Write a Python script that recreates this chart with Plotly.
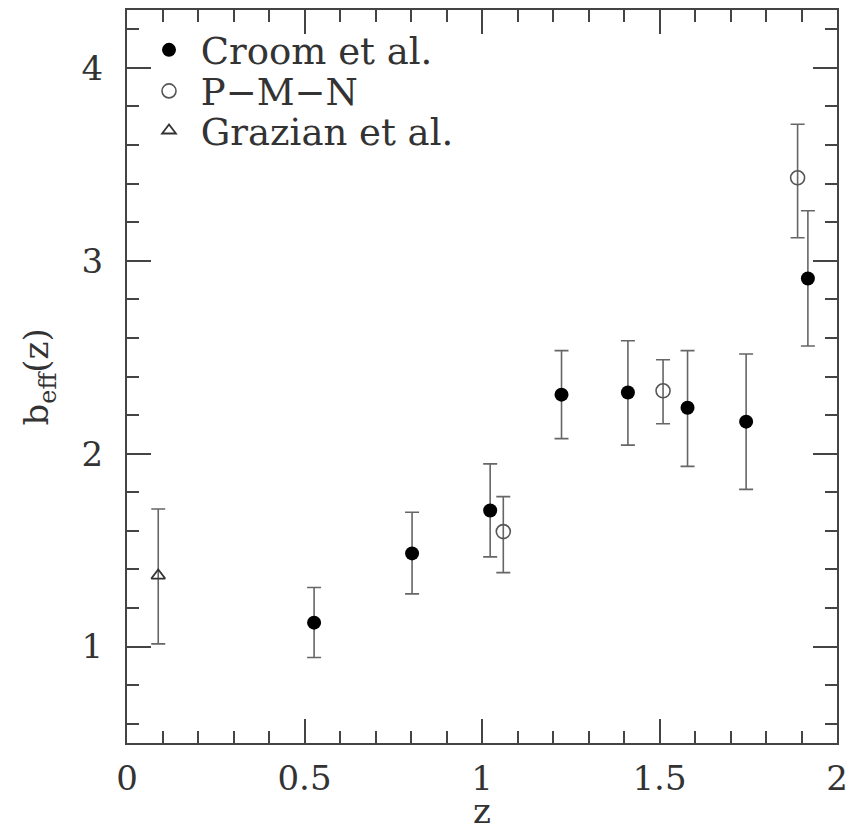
import plotly.graph_objects as go

# Croom et al.
croom_z = [0.527, 0.803, 1.023, 1.224, 1.411, 1.579, 1.744, 1.918]
croom_b = [1.124, 1.483, 1.705, 2.306, 2.317, 2.238, 2.166, 2.908]
croom_hi = [1.306, 1.696, 1.947, 2.534, 2.585, 2.534, 2.517, 3.259]
croom_lo = [0.943, 1.273, 1.465, 2.078, 2.044, 1.934, 1.815, 2.558]

# P-M-N
pmn_z = [1.060, 1.510, 1.889]
pmn_b = [1.596, 2.326, 3.430]
pmn_hi = [1.777, 2.487, 3.708]
pmn_lo = [1.383, 2.155, 3.119]

# Grazian et al.
gra_z = [0.088]
gra_b = [1.368]
gra_hi = [1.713]
gra_lo = [1.014]

ERR_COLOR = "#666666"
AX_COLOR = "#444444"
TXT_COLOR = "#333333"
FONT = "DejaVu Serif"


def err(b, hi, lo):
    return dict(type="data", symmetric=False,
                array=[h - v for h, v in zip(hi, b)],
                arrayminus=[v - l for v, l in zip(b, lo)],
                color=ERR_COLOR, thickness=1.6, width=7)


fig = go.Figure()
fig.add_trace(go.Scatter(x=croom_z, y=croom_b, mode="markers", name=" Croom et al.",
                         legend="legend",
                         marker=dict(symbol="circle", size=14, color="black"),
                         error_y=err(croom_b, croom_hi, croom_lo)))
fig.add_trace(go.Scatter(x=pmn_z, y=pmn_b, mode="markers", name=" P\u2212M\u2212N",
                         legend="legend2",
                         marker=dict(symbol="circle-open", size=14, color="#555555",
                                     line=dict(width=1.6)),
                         error_y=err(pmn_b, pmn_hi, pmn_lo)))
fig.add_trace(go.Scatter(x=gra_z, y=gra_b, mode="markers", name=" Grazian et al.",
                         legend="legend3",
                         marker=dict(symbol="triangle-up-open", size=12, color="#333333",
                                     line=dict(width=1.8)),
                         error_y=err(gra_b, gra_hi, gra_lo)))

axis_common = dict(showline=True, linecolor=AX_COLOR, linewidth=2, mirror="allticks",
                   ticks="inside", ticklen=24, tickwidth=1.5, tickcolor=AX_COLOR,
                   showgrid=False, zeroline=False,
                   tickfont=dict(family=FONT, size=34, color=TXT_COLOR))

fig.update_xaxes(range=[0, 2], tick0=0, dtick=0.5, ticklabelstandoff=4,
                 minor=dict(dtick=0.1, ticks="inside", ticklen=12, tickwidth=1.5,
                            tickcolor=AX_COLOR, showgrid=False),
                 **axis_common)
fig.update_yaxes(range=[0.5, 4.3], tick0=0, dtick=1, ticklabelstandoff=15,
                 minor=dict(dtick=0.2, ticks="inside", ticklen=12, tickwidth=1.5,
                            tickcolor=AX_COLOR, showgrid=False),
                 **axis_common)

fig.add_annotation(text="b<sub>eff</sub>(z)", xref="paper", yref="paper",
                   x=-0.124, y=0.5, xanchor="center", yanchor="middle",
                   textangle=-90, showarrow=False,
                   font=dict(family=FONT, size=34, color=TXT_COLOR))
fig.add_annotation(text="z", xref="paper", yref="paper",
                   x=0.5, y=-0.093, xanchor="center", yanchor="middle",
                   height=26, valign="middle",
                   showarrow=False,
                   font=dict(family=FONT, size=34, color=TXT_COLOR))

leg_common = dict(x=0.031, xanchor="left", yanchor="middle",
                  bgcolor="rgba(0,0,0,0)", borderwidth=0, itemsizing="trace",
                  font=dict(family=FONT, size=37, color=TXT_COLOR))

fig.update_layout(width=857, height=831,
                  margin=dict(l=127, r=20, t=8, b=88),
                  paper_bgcolor="white", plot_bgcolor="white",
                  showlegend=True,
                  legend=dict(y=0.945, **leg_common),
                  legend2=dict(y=0.889, **leg_common),
                  legend3=dict(y=0.835, **leg_common))

fig.write_html("out.html")
